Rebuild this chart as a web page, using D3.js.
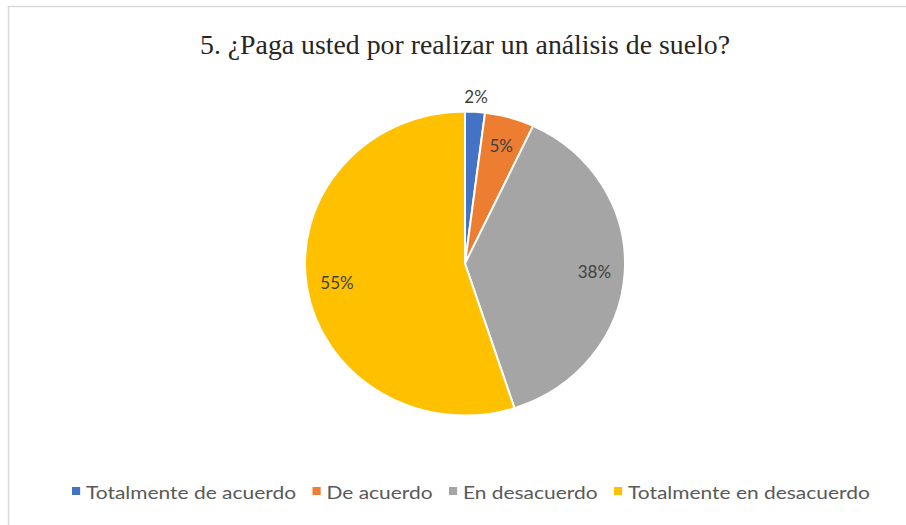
<!DOCTYPE html>
<html>
<head>
<meta charset="utf-8">
<script src="https://cdn.jsdelivr.net/npm/d3@7"></script>
<style>
  html, body { margin: 0; padding: 0; background: #ffffff; }
  svg { display: block; }
</style>
</head>
<body>
<svg id="chart" width="906" height="525"></svg>
<script>
// Survey answers for question 5
const categories = ["Totalmente de acuerdo", "De acuerdo", "En desacuerdo", "Totalmente en desacuerdo"];
const values = [2, 5, 38, 55];
const colors = ["#4472C4", "#ED7D31", "#A5A5A5", "#FFC000"];
const title = "5. ¿Paga usted por realizar un análisis de suelo?";

const svg = d3.select("#chart");
const W = 906, H = 525;

// chart frame
svg.append("rect")
  .attr("x", 8.5).attr("y", 6.5)
  .attr("width", W).attr("height", H)
  .attr("fill", "#ffffff")
  .attr("stroke", "#d9d9d9")
  .attr("stroke-width", 1.5);

// title
svg.append("text")
  .attr("x", 465).attr("y", 54)
  .attr("text-anchor", "middle")
  .attr("font-family", "'Liberation Serif', 'Times New Roman', serif")
  .attr("font-size", 27)
  .attr("fill", "#262626")
  .attr("textLength", 530)
  .attr("lengthAdjust", "spacingAndGlyphs")
  .text(title);

// pie
const data = categories.map((c, i) => ({ name: c, value: values[i], color: colors[i] }));
const pie = d3.pie().sort(null).value(d => d.value);
const R = 160;
const arc = d3.arc().innerRadius(0).outerRadius(R);
const labelArc = d3.arc().innerRadius(R * 0.81).outerRadius(R * 0.81);
const outerLabelArc = d3.arc().innerRadius(R * 1.1).outerRadius(R * 1.1);

const g = svg.append("g").attr("transform", "translate(465,263.5) scale(1,0.95)");
const arcs = pie(data);

g.selectAll("path.slice")
  .data(arcs)
  .join("path")
  .attr("class", "slice")
  .attr("d", arc)
  .attr("fill", d => d.data.color)
  .attr("stroke", "#ffffff")
  .attr("stroke-width", 2);

// percentage labels (small slices go outside)
const total = d3.sum(values);
svg.append("g").attr("transform", "translate(465,263.5)")
  .selectAll("text")
  .data(arcs)
  .join("text")
  .attr("transform", d => {
    const c = (d.data.value / total < 0.03 ? outerLabelArc : labelArc).centroid(d);
    return `translate(${c[0]},${c[1] * 0.95})`;
  })
  .attr("text-anchor", "middle")
  .attr("dominant-baseline", "central")
  .attr("font-family", "Lato, 'Open Sans', sans-serif")
  .attr("font-size", 17)
  .attr("fill", "#404040")
  .text(d => Math.round(d.data.value / total * 100) + "%");

// legend
const legend = svg.append("g");
let x = 0;
const gap = 14, markerW = 7, markerGap = 5;
data.forEach(d => {
  const item = legend.append("g").attr("transform", `translate(${x},0)`);
  item.append("rect")
    .attr("x", 0).attr("y", -5)
    .attr("width", markerW).attr("height", 8)
    .attr("fill", d.color);
  const t = item.append("text")
    .attr("x", markerW + markerGap).attr("y", 0)
    .attr("dominant-baseline", "central")
    .attr("font-family", "Lato, 'Open Sans', sans-serif")
    .attr("font-size", 18)
    .attr("fill", "#595959")
    .text(d.name);
  x += markerW + markerGap + t.node().getComputedTextLength() + gap;
});
const legendW = x - gap;
const targetW = 798;
legend.attr("transform", `translate(72,492) scale(${targetW / legendW},1)`);
</script>
</body>
</html>
